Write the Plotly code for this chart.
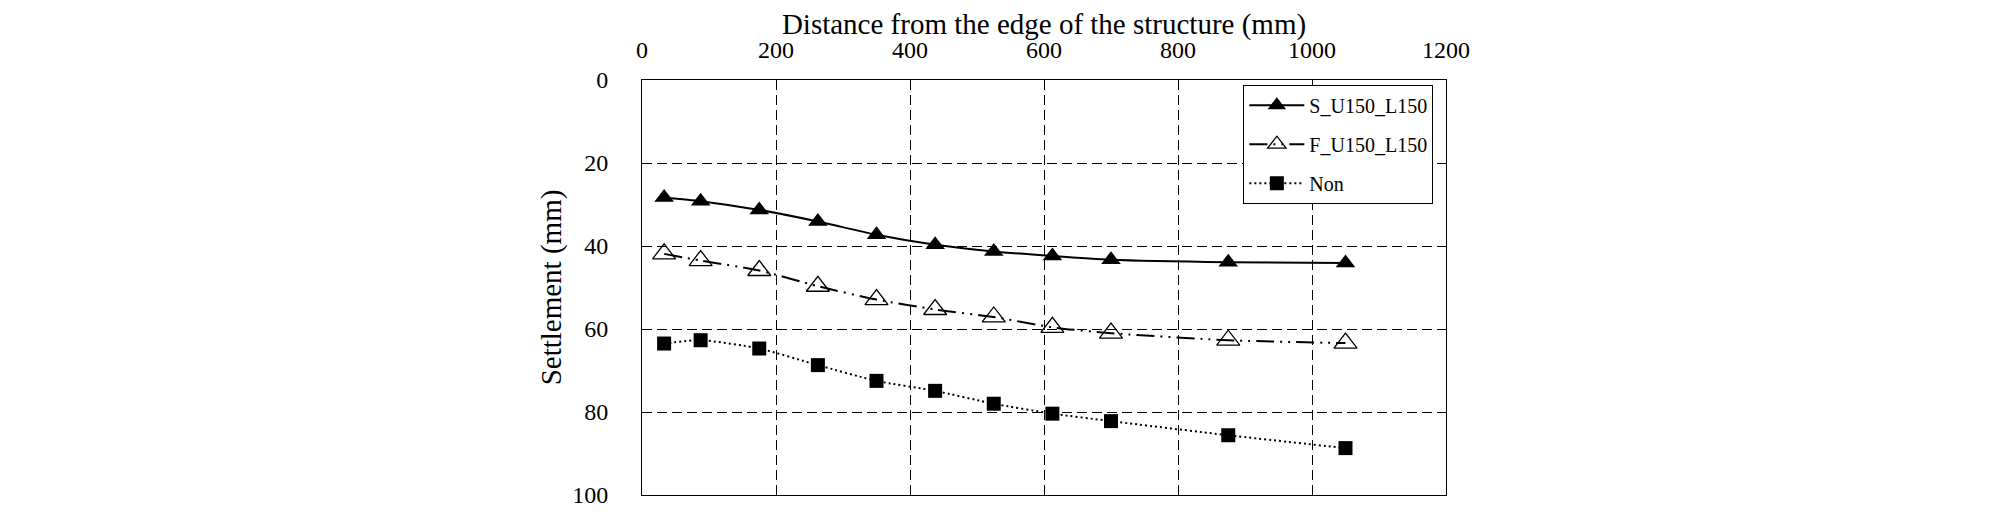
import plotly.graph_objects as go

distance = [33, 87.5, 175, 262.5, 350, 437.5, 525, 612.5, 700, 875, 1050]
s_u150_l150 = [28.3, 29.2, 31.3, 34.1, 37.3, 39.7, 41.3, 42.4, 43.3, 43.9, 44.1]
f_u150_l150 = [41.9, 43.5, 45.9, 49.7, 52.9, 55.3, 57.1, 59.6, 61.0, 62.7, 63.4]
non = [63.5, 62.7, 64.7, 68.7, 72.5, 74.9, 78.0, 80.4, 82.2, 85.6, 88.7]

x_ticks = [0, 200, 400, 600, 800, 1000, 1200]
y_ticks = [0, 20, 40, 60, 80, 100]

FONT = "Liberation Serif"

fig = go.Figure()
fig.add_trace(go.Scatter(
    x=distance, y=s_u150_l150, name="S_U150_L150", mode="lines+markers",
    line=dict(color="black", width=2, shape="spline", smoothing=0.6),
    marker=dict(symbol="triangle-up", size=17, color="black"),
    legendgroup="a"))
fig.add_trace(go.Scatter(
    x=distance, y=f_u150_l150, name="F_U150_L150", mode="lines+markers",
    line=dict(color="black", width=2, shape="spline", smoothing=0.6,
              dash="18px,6px,2px,6px,2px,6px"),
    marker=dict(symbol="triangle-up-open", size=20, color="black",
                line=dict(width=1.3, color="black")),
    legendgroup="b"))
fig.add_trace(go.Scatter(
    x=distance, y=non, name="Non", mode="lines+markers",
    line=dict(color="black", width=2, shape="spline", smoothing=0.6,
              dash="2px,3px"),
    marker=dict(symbol="square", size=14, color="black"),
    legendgroup="c"))

# page body has an 8px margin; target plot area (page px): x 641.5-1445.7, y 80.3-495
OFF = 8
W, H = 2000, 508
x0, x1, y0, y1 = 641.5 - OFF, 1445.7 - OFF, 80.3 - OFF, 495 - OFF
ml, mr, mt, mb = x0, W - x1, y0, H - y1

fig.update_layout(
    width=W, height=H,
    margin=dict(l=ml, r=mr, t=mt, b=mb, pad=0),
    paper_bgcolor="white", plot_bgcolor="white",
    font=dict(family=FONT, color="black", size=24),
    showlegend=True,
    legend=dict(
        x=(1243 - OFF - x0) / (x1 - x0), y=1 - (85 - OFF - y0) / (y1 - y0),
        xanchor="left", yanchor="top",
        bgcolor="white", bordercolor="black", borderwidth=1,
        font=dict(family=FONT, size=20, color="black"),
        itemwidth=55, traceorder="grouped", tracegroupgap=10,
    ),
    xaxis=dict(
        side="top", range=[0, 1200], tickvals=x_ticks,
        ticktext=[str(v) for v in x_ticks], automargin=False,
        showline=True, linecolor="black", linewidth=1, mirror=True,
        showgrid=True, gridcolor="black", gridwidth=1, griddash="10px,5px",
        zeroline=False, ticks="", ticklabelstandoff=11,
        tickfont=dict(family=FONT, size=24),
        title=dict(text="Distance from the edge of the structure (mm)",
                   font=dict(family=FONT, size=29), standoff=20),
    ),
    yaxis=dict(
        range=[100, 0], tickvals=y_ticks, automargin=False,
        ticktext=[str(v) for v in y_ticks],
        showline=True, linecolor="black", linewidth=1, mirror=True,
        showgrid=True, gridcolor="black", gridwidth=1, griddash="10px,5px",
        zeroline=False, ticks="", ticklabelstandoff=28,
        tickfont=dict(family=FONT, size=24),
        title=dict(text="Settlement (mm)",
                   font=dict(family=FONT, size=29), standoff=2),
    ),
)

fig.write_html("out.html")
